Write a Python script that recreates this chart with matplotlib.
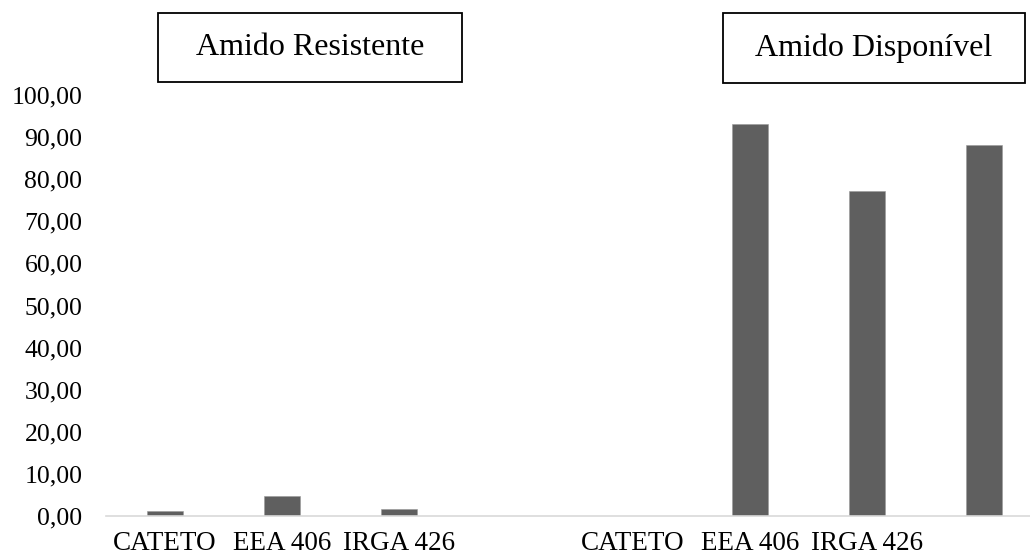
import matplotlib.pyplot as plt
from matplotlib.patches import Rectangle

# bar slots: left group (resistente) then right group (disponível)
bar_slots = [0, 1, 2, 5, 6, 7]
bar_values = [1.26, 4.8, 1.6, 93.0, 77.3, 88.2]

tick_slots = [0, 1, 2, 4, 5, 6]
tick_labels = ["CATETO", "EEA 406", "IRGA 426", "CATETO", "EEA 406", "IRGA 426"]

y_ticks = list(range(0, 101, 10))
y_tick_labels = [f"{v},00" for v in y_ticks]

box_titles = ["Amido Resistente", "Amido Disponível"]

plt.rcParams["font.family"] = ["Liberation Serif", "DejaVu Serif"]

W, H = 1030, 558
fig = plt.figure(figsize=(W / 100, H / 100), dpi=100)
ax = fig.add_axes([106 / W, (H - 516) / H, (W - 106) / W, 421 / H])

ax.bar(bar_slots, bar_values, width=0.308, color="#5f5f5f", edgecolor="#9a9a9a", linewidth=0.4)
ax.set_xlim(-0.504, 7.393)
ax.set_ylim(0, 100)

ax.set_xticks(tick_slots)
ax.set_xticklabels(tick_labels, fontsize=19.5)
ax.set_yticks(y_ticks)
ax.set_yticklabels(y_tick_labels, fontsize=18.5)
ax.tick_params(axis="x", length=0, pad=11)
ax.tick_params(axis="y", length=0, pad=17)

for side in ["top", "right", "left"]:
    ax.spines[side].set_visible(False)
ax.spines["bottom"].set_color("#d9d9d9")
ax.spines["bottom"].set_linewidth(1.2)

# title boxes
boxes = [(158, 13, 304, 69), (723, 13, 302, 70)]
for (x0, y0, bw, bh), title in zip(boxes, box_titles):
    fig.patches.append(Rectangle((x0 / W, 1 - (y0 + bh) / H), bw / W, bh / H,
                                 transform=fig.transFigure, fill=False,
                                 edgecolor="black", linewidth=1.3))
    fig.text((x0 + bw / 2) / W, 1 - (y0 + bh / 2) / H, title,
             ha="center", va="center", fontsize=23)

fig.savefig("out.png", dpi=100)
